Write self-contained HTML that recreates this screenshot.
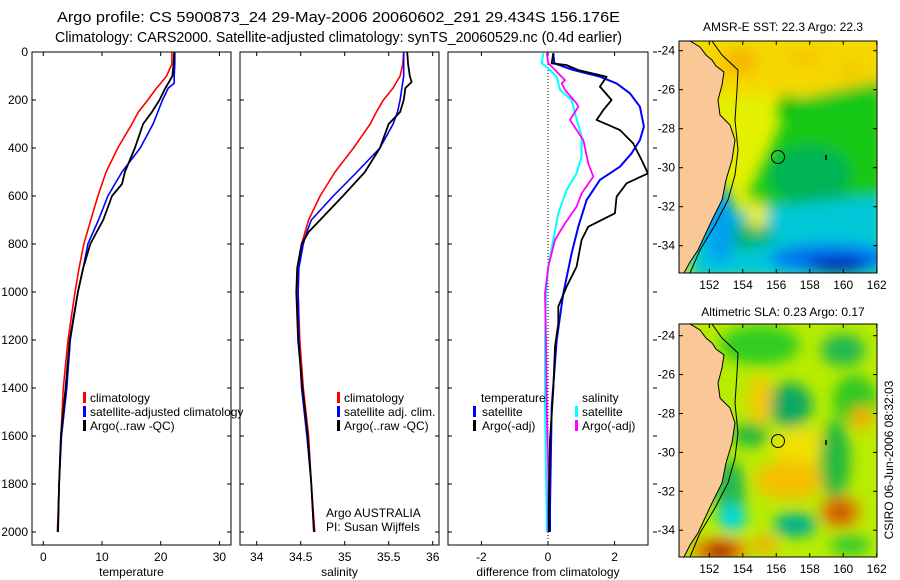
<!DOCTYPE html>
<html><head><meta charset="utf-8">
<style>
html,body{margin:0;padding:0;background:#fff;}
svg{display:block;font-family:"Liberation Sans",sans-serif;}
text{font-size:12px;fill:#000;}
</style></head>
<body>
<svg id="c" width="900" height="580" viewBox="0 0 900 580" xmlns="http://www.w3.org/2000/svg">
<defs>
<clipPath id="clipm1"><rect x="679" y="41" width="198" height="232"/></clipPath>
<clipPath id="clipm2"><rect x="679" y="324" width="198" height="233"/></clipPath>
<clipPath id="clipp1"><rect x="32" y="52" width="199" height="493"/></clipPath>
<clipPath id="clipp2"><rect x="240" y="52" width="199" height="493"/></clipPath>
<clipPath id="clipp3"><rect x="448" y="52" width="200" height="493"/></clipPath>
<filter id="bl" x="-50%" y="-50%" width="200%" height="200%"><feGaussianBlur stdDeviation="7"/></filter>
</defs>
<text x="57" y="22" style="font-size:15px" textLength="563" lengthAdjust="spacingAndGlyphs">Argo profile: CS 5900873_24 29-May-2006 20060602_291 29.434S 156.176E</text>
<text x="55" y="42" style="font-size:15px" textLength="567" lengthAdjust="spacingAndGlyphs">Climatology: CARS2000. Satellite-adjusted climatology: synTS_20060529.nc (0.4d earlier)</text>

<!-- Map 1 -->
<g>
<g clip-path="url(#clipm1)">
<rect x="679" y="41" width="198" height="232" fill="#e4f000"/>
<g filter="url(#bl)">
<rect x="690" y="35" width="200" height="60" fill="#f5d800"/>
<ellipse cx="740" cy="62" rx="18" ry="14" fill="#f5b800"/>
<ellipse cx="805" cy="58" rx="20" ry="10" fill="#f5c800"/>
<ellipse cx="852" cy="70" rx="15" ry="8" fill="#f5c800"/>
<polygon points="790,100 885,80 885,235 760,240 748,195 770,150" fill="#18c818"/>
<ellipse cx="787" cy="106" rx="10" ry="12" fill="#10c010"/>
<ellipse cx="810" cy="175" rx="40" ry="30" fill="#00b454"/>
<ellipse cx="850" cy="210" rx="25" ry="15" fill="#00b454"/>
<polygon points="690,215 885,195 885,280 690,280" fill="#00c8d8"/>
<ellipse cx="740" cy="235" rx="35" ry="14" fill="#00b470"/>
<ellipse cx="830" cy="258" rx="60" ry="14" fill="#0070f0"/>
<ellipse cx="838" cy="266" rx="30" ry="8" fill="#0010a8"/>
<ellipse cx="757" cy="215" rx="10" ry="14" fill="#f0f000"/>
<ellipse cx="720" cy="225" rx="15" ry="40" fill="#00a0f0"/>
</g>
<polygon points="679,41 690,41 700,47 706,55 712,60 716,66 724,72 722,85 718,100 720,115 730,125 735,140 732,160 726,180 722,200 712,220 705,235 698,250 690,262 684,273 679,273" fill="#f9c896" stroke="#000" stroke-width="1"/>
<polyline points="712,41 722,55 738,70 737,90 735,120 738,150 735,175 728,200 715,225 700,250 690,273" fill="none" stroke="#000" stroke-width="1"/>
<circle cx="778" cy="157" r="6.5" fill="none" stroke="#000" stroke-width="1"/>
<line x1="826" y1="155" x2="826" y2="160" stroke="#000" stroke-width="1.5"/>
</g>
<rect x="679" y="41" width="198" height="232" fill="none" stroke="#000" stroke-width="1"/>
<text x="783" y="31" text-anchor="middle">AMSR-E SST: 22.3 Argo: 22.3</text>
</g>

<!-- Map 2 -->
<g>
<g clip-path="url(#clipm2)">
<rect x="679" y="324" width="198" height="233" fill="#b8ec00"/>
<g filter="url(#bl)">
<ellipse cx="760" cy="345" rx="40" ry="20" fill="#30cc20"/>
<ellipse cx="843" cy="350" rx="22" ry="16" fill="#20b850"/>
<ellipse cx="790" cy="405" rx="22" ry="22" fill="#10a860"/>
<ellipse cx="855" cy="400" rx="22" ry="25" fill="#30c820"/>
<ellipse cx="760" cy="400" rx="12" ry="25" fill="#f5c800"/>
<ellipse cx="750" cy="435" rx="18" ry="12" fill="#20b840"/>
<ellipse cx="800" cy="448" rx="28" ry="20" fill="#f0e000"/>
<ellipse cx="790" cy="480" rx="35" ry="20" fill="#f5c000"/>
<ellipse cx="835" cy="460" rx="15" ry="40" fill="#20b840"/>
<ellipse cx="862" cy="418" rx="12" ry="12" fill="#f0b000"/>
<ellipse cx="730" cy="490" rx="15" ry="30" fill="#20b850"/>
<ellipse cx="732" cy="518" rx="14" ry="14" fill="#00d8e0"/>
<ellipse cx="795" cy="525" rx="22" ry="12" fill="#00b090"/>
<ellipse cx="840" cy="512" rx="20" ry="16" fill="#e08000"/>
<ellipse cx="840" cy="512" rx="9" ry="8" fill="#c04000"/>
<ellipse cx="720" cy="550" rx="28" ry="12" fill="#f08000"/>
<ellipse cx="720" cy="552" rx="16" ry="8" fill="#a00000"/>
<ellipse cx="765" cy="545" rx="12" ry="10" fill="#f0b000"/>
<ellipse cx="850" cy="545" rx="20" ry="10" fill="#30c830"/>
</g>
<polygon points="679,324 690,324 700,330 706,338 712,343 716,349 724,355 722,368 718,383 720,398 730,408 735,423 732,443 726,463 722,483 712,503 705,518 698,533 690,545 684,557 679,557" fill="#f9c896" stroke="#000" stroke-width="1"/>
<polyline points="712,324 722,338 738,353 737,373 735,403 738,433 735,458 728,483 715,508 700,533 690,557" fill="none" stroke="#000" stroke-width="1"/>
<circle cx="778" cy="441" r="6.5" fill="none" stroke="#000" stroke-width="1"/>
<line x1="826" y1="440" x2="826" y2="445" stroke="#000" stroke-width="1.5"/>
</g>
<rect x="679" y="324" width="198" height="233" fill="none" stroke="#000" stroke-width="1"/>
<text x="783" y="316" text-anchor="middle">Altimetric SLA: 0.23 Argo: 0.17</text>
</g>
<text transform="translate(893,460) rotate(-90)" text-anchor="middle">CSIRO 06-Jun-2006 08:32:03</text>
<g id="dyn"></g>
</svg>
<script>
// ---- data ----
const depthT = [0,50,100,130,150,200,250,300,400,500,550,600,700,750,800,900,1000,1200,1400,1600,1800,2000];
const tempClim = [21.9,21.9,21.0,20.0,19.3,17.8,16.2,15.1,12.7,10.7,10.0,9.3,8.1,7.5,6.9,6.1,5.4,4.2,3.4,3.0,2.7,2.4];
const tempSat  = [22.4,22.4,22.3,22.3,21.3,20.3,19.5,18.7,16.5,13.4,12.2,11.0,9.4,8.5,7.6,6.8,5.9,4.6,4.0,3.1,2.7,2.5];
const tempArgo = [22.3,22.2,22.0,21.3,20.8,19.8,18.5,17.0,15.6,13.9,13.4,11.7,10.2,9.1,8.0,6.8,5.9,4.5,3.8,3.0,2.7,2.5];
const depthS = [0,50,100,125,150,200,250,300,400,500,600,700,750,800,900,1000,1200,1400,1600,1800,2000];
const salClim = [35.67,35.66,35.63,35.59,35.55,35.44,35.36,35.29,35.10,34.89,34.72,34.59,34.55,34.51,34.47,34.47,34.49,34.53,34.59,34.62,34.66];
const salSat  = [35.67,35.67,35.67,35.66,35.65,35.63,35.60,35.55,35.40,35.14,34.87,34.62,34.57,34.53,34.48,34.47,34.48,34.51,34.57,34.62,34.65];
const salArgo = [35.71,35.72,35.74,35.76,35.69,35.67,35.63,35.50,35.40,35.23,34.98,34.72,34.59,34.51,34.46,34.45,34.47,34.52,34.58,34.62,34.65];
const depthD = [5,47,75,103,131,172,228,311,367,422,478,533,617,728,839,1006,1200,1478,1894,2000];
const diffTSat = [0.16,0.19,0.76,1.56,2.06,2.46,2.76,2.88,2.76,2.51,2.16,1.56,1.16,0.91,0.71,0.46,0.26,0.11,0.06,0.06];
const depthDA = [5,47,54,75,103,144,200,242,283,325,381,450,506,547,603,672,728,783,894,978,1061,1131,1228,1408,1617,1922,2000];
const diffTArgo = [0.16,0.11,0.55,0.9,1.76,1.56,1.91,1.66,1.46,2.16,2.56,2.81,3.0,2.36,2.06,2.01,1.21,1.01,0.86,0.56,0.31,0.31,0.21,0.16,0.06,0.02,0.03];
const depthDS = [5,47,75,103,158,200,256,353,436,506,575,672,783,894,1006,1200,1478,1756,1922,2000];
const diffSSat = [-0.14,-0.19,0.06,0.26,0.36,0.71,0.81,1.01,1.01,0.86,0.56,0.31,0.16,0.01,-0.06,-0.09,-0.09,-0.06,-0.04,-0.04];
const depthDM = [5,47,75,117,131,158,214,228,283,325,367,464,519,589,644,714,783,894,1006,1200,1478,1756,1922,2000];
const diffSArgo = [-0.04,0.01,0.21,0.51,0.41,0.51,0.86,0.91,0.66,0.86,1.06,1.21,1.36,1.01,0.86,0.51,0.21,0.01,-0.09,-0.06,-0.04,0.01,0.01,0.01];
const depthTicks = [0,200,400,600,800,1000,1200,1400,1600,1800,2000];
const tempTicks = [0,10,20,30];
const salTicks = [34,34.5,35,35.5,36];
const diffTicks = [-2,0,2];
const mapLonTicks = [152,154,156,158,160,162];
const mapLatTicks = [-24,-26,-28,-30,-32,-34];

// ---- axes ----
const yD = d => 52 + 0.24*d;
const xT = v => 43.3 + 5.87*v;
const xS = v => 256.7 + 88*(v-34);
const xDf = v => 548 + 33.3*v;
const lonX = l => 709.3 + 16.74*(l-152);
const latY1 = la => 50.7 + 19.5*(-la-24);
const latY2 = la => 335.7 + 19.45*(-la-24);

const NS='http://www.w3.org/2000/svg';
const dyn=document.getElementById('dyn');
function mk(tag,attrs,parent){const e=document.createElementNS(NS,tag);for(const k in attrs)e.setAttribute(k,attrs[k]);(parent||dyn).appendChild(e);return e;}
function txt(x,y,s,anchor,parent){const e=mk('text',{x:x,y:y,'text-anchor':anchor||'start'},parent);e.textContent=s;return e;}

function line(xs,ds,xf,color,w,clip,name){
  const pts=xs.map((v,i)=>xf(v).toFixed(1)+','+yD(ds[i]).toFixed(1)).join(' ');
  const p=mk('polyline',{points:pts,fill:'none',stroke:color,'stroke-width':w,'stroke-linejoin':'round','clip-path':'url(#'+clip+')'});
  
  
}

const panels=[{x0:32,x1:231,clip:'clipp1',ticks:tempTicks,xf:xT,lab:'temperature',name:'temperature-panel'},
 {x0:240,x1:439,clip:'clipp2',ticks:salTicks,xf:xS,lab:'salinity',name:'salinity-panel'},
 {x0:448,x1:648,clip:'clipp3',ticks:diffTicks,xf:xDf,lab:'difference from climatology',name:'difference-panel'}];
panels.forEach((p,pi)=>{
  const g=mk('g',{});
  
  
  mk('rect',{x:p.x0,y:52,width:p.x1-p.x0,height:493,fill:'none',stroke:'#000','stroke-width':1},g);
  p.ticks.forEach(t=>{const x=p.xf(t);
    mk('line',{x1:x,y1:545,x2:x,y2:541,stroke:'#000'},g);
    mk('line',{x1:x,y1:52,x2:x,y2:56,stroke:'#000'},g);
    const l=txt(x,561,String(t),'middle',g);
    
    
  });
  depthTicks.forEach(d=>{const y=yD(d);
    mk('line',{x1:p.x0,y1:y,x2:p.x0+4,y2:y,stroke:'#000'},g);
    if(pi<2) mk('line',{x1:p.x1,y1:y,x2:p.x1-4,y2:y,stroke:'#000'},g);
    else mk('line',{x1:p.x1+5,y1:y,x2:p.x1+9,y2:y,stroke:'#000'},g);
    if(pi===0){const l=txt(28,y+4,String(d),'end',g);
      
      }
  });
  const al=txt((p.x0+p.x1)/2,576,p.lab,'middle',g);
  
  
});
// zero line
const zl=mk('line',{x1:xDf(0),y1:52,x2:xDf(0),y2:545,stroke:'#000','stroke-width':1,'stroke-dasharray':'1,2'});



line(tempClim,depthT,xT,'#f00',1.6,'clipp1','temperature-climatology-line');
line(tempSat,depthT,xT,'#00f',1.6,'clipp1','temperature-satellite-line');
line(tempArgo,depthT,xT,'#000',1.8,'clipp1','temperature-argo-line');
line(salClim,depthS,xS,'#f00',1.6,'clipp2','salinity-climatology-line');
line(salSat,depthS,xS,'#00f',1.6,'clipp2','salinity-satellite-line');
line(salArgo,depthS,xS,'#000',1.8,'clipp2','salinity-argo-line');
line(diffSSat,depthDS,xDf,'#0ff',2,'clipp3','salinity-satellite-diff-line');
line(diffSArgo,depthDM,xDf,'#f0f',1.8,'clipp3','salinity-argo-diff-line');
line(diffTSat,depthD,xDf,'#00f',2,'clipp3','temperature-satellite-diff-line');
line(diffTArgo,depthDA,xDf,'#000',1.8,'clipp3','temperature-argo-diff-line');

function legend(mx,tx,y,color,label){
  const g=mk('g',{});
  
  
  if(color) mk('rect',{x:mx,y:y-10,width:3,height:11,fill:color},g);
  txt(tx,y,label,'start',g);
}
legend(83,90,402,'#f00','climatology');
legend(83,90,416,'#00f','satellite-adjusted climatology');
legend(83,90,430,'#000','Argo(..raw -QC)');
legend(337,344,402,'#f00','climatology');
legend(337,344,416,'#00f','satellite adj. clim.');
legend(337,344,430,'#000','Argo(..raw -QC)');
legend(0,481,402,null,'temperature');
legend(473,482,416,'#00f','satellite');
legend(473,482,430,'#000','Argo(-adj)');
legend(0,582,402,null,'salinity');
legend(575,582,416,'#0ff','satellite');
legend(575,582,430,'#f0f','Argo(-adj)');
const a1=txt(326,517,'Argo AUSTRALIA');


const a2=txt(326,531,'PI: Susan Wijffels');



// map ticks
[[273,latY1,41],[557,latY2,324]].forEach(([yb,ly,yt])=>{
  mapLonTicks.forEach(l=>{const x=lonX(l);
    mk('line',{x1:x,y1:yb,x2:x,y2:yb-4,stroke:'#000'});
    mk('line',{x1:x,y1:yt,x2:x,y2:yt+4,stroke:'#000'});
    const t=txt(x,yb+16,String(l),'middle');
    
    
  });
  mapLatTicks.forEach(la=>{const y=ly(la);
    mk('line',{x1:679,y1:y,x2:683,y2:y,stroke:'#000'});
    mk('line',{x1:877,y1:y,x2:873,y2:y,stroke:'#000'});
    const t=txt(675,y+4,String(la),'end');
    
    
  });
});
</script>
</body></html>
